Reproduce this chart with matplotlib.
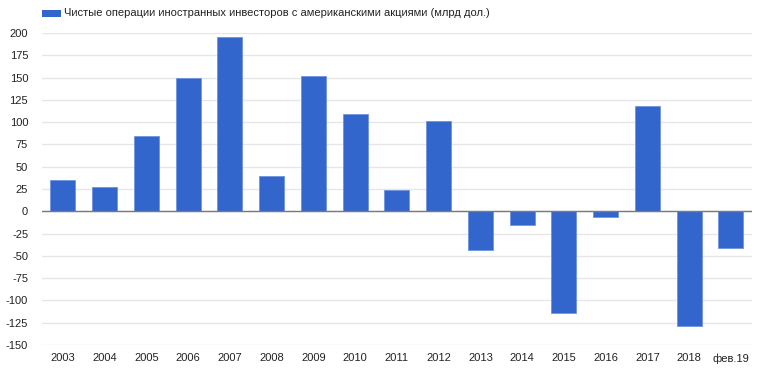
import matplotlib
matplotlib.use("Agg")
import matplotlib.pyplot as plt
from matplotlib.patches import Rectangle

categories = ["2003", "2004", "2005", "2006", "2007", "2008", "2009", "2010", "2011",
              "2012", "2013", "2014", "2015", "2016", "2017", "2018", "фев.19"]
values = [35, 27, 84, 150, 195, 40, 152, 109, 24, 101, -43, -16, -114, -6, 118, -129, -41]
series_name = "Чистые операции иностранных инвесторов с американскими акциями (млрд дол.)"
yticks = list(range(-150, 201, 25))

plt.rcParams['font.family'] = ['Liberation Sans', 'DejaVu Sans']

fig = plt.figure(figsize=(7.64, 3.88), dpi=100)
ax = fig.add_axes([0.055, 0.111, 0.929, 0.804])

x = list(range(len(categories)))
ax.bar(x, values, width=0.6, color="#3366cc", edgecolor="#6f93e0", linewidth=0.6, zorder=3)
ax.set_xlim(-0.5, len(categories) - 0.5)
ax.set_ylim(-150, 200)
ax.set_yticks(yticks)
ax.set_yticklabels([str(t) for t in yticks])
ax.set_xticks(x)
ax.set_xticklabels(categories)
ax.grid(axis='y', color="#e6e6e6", linewidth=1, zorder=0)
ax.axhline(0, color="#7a7a7a", linewidth=1, zorder=4)
for s in ax.spines.values():
    s.set_visible(False)
ax.tick_params(axis='both', length=0, labelsize=8, colors="#222222")
ax.tick_params(axis='x', pad=6)
ax.tick_params(axis='y', pad=10)

# legend
fig.patches.append(Rectangle((42/764, 1 - 17/388), 19/764, 7/388, transform=fig.transFigure,
                             facecolor="#3366cc", edgecolor="none"))
fig.text(64/764, 1 - 13.5/388, series_name, fontsize=8, color="#222222", va='center', ha='left')

fig.savefig("out.png", dpi=100)
